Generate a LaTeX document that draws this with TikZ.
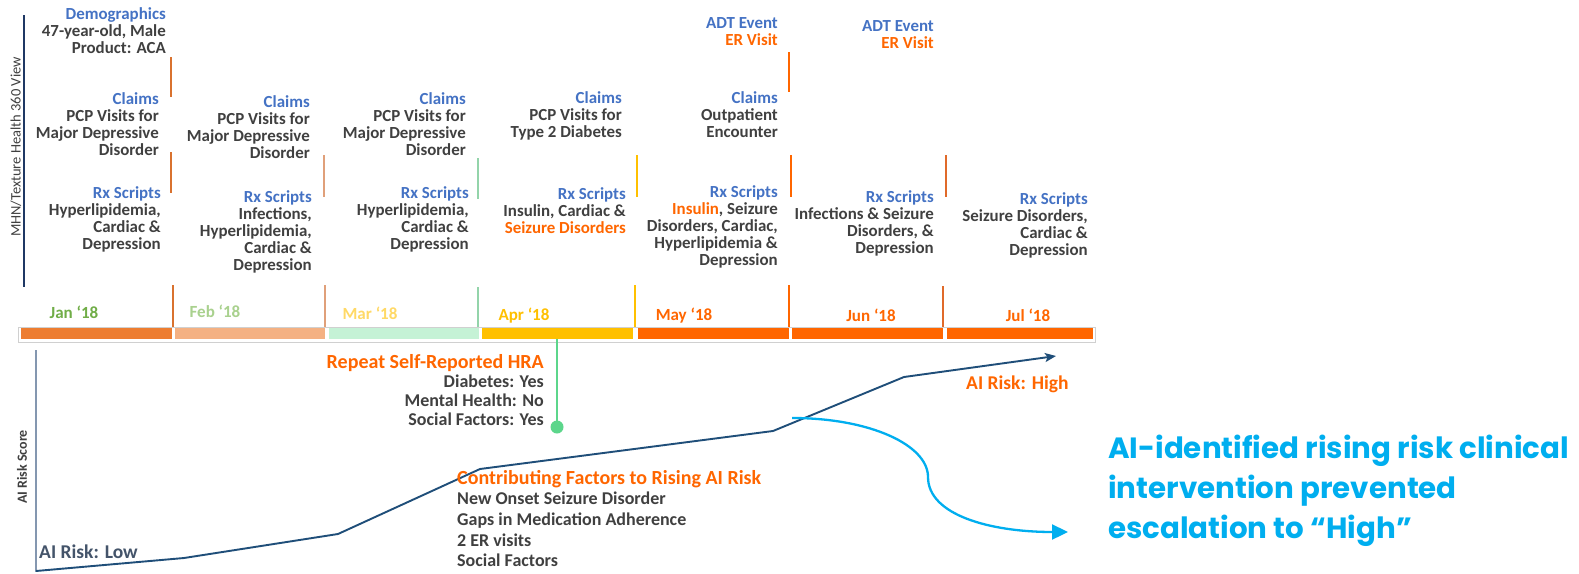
\documentclass[tikz,border=0pt]{standalone}
\usepackage{fontspec}
\setmainfont{Carlito}
\newfontfamily\calloutfont{Poppins}
\usetikzlibrary{arrows.meta}

\definecolor{hdrblue}{HTML}{4472C4}
\definecolor{txtgray}{HTML}{404040}
\definecolor{hot}{HTML}{FF6600}
\definecolor{riskline}{HTML}{1F4E79}
\definecolor{axisnavy}{HTML}{1F3864}
\definecolor{axisgray}{HTML}{8497B0}
\definecolor{lowslate}{HTML}{44546A}
\definecolor{callout}{HTML}{00AEEF}
\definecolor{hragreen}{HTML}{5CD68B}
\definecolor{framegray}{HTML}{D0D0D0}
% month bar fills
\definecolor{janbar}{HTML}{ED7D31}
\definecolor{febbar}{HTML}{F4B183}
\definecolor{marbar}{HTML}{C5F2D6}
\definecolor{aprbar}{HTML}{FFC000}
% month label colours
\definecolor{janlab}{HTML}{70AD47}
\definecolor{feblab}{HTML}{A9D18E}
\definecolor{marlab}{HTML}{FFD966}
% separator colours
\definecolor{jantick}{HTML}{D9722F}
\definecolor{febtick}{HTML}{E0A07A}
\definecolor{martick}{HTML}{93D4AA}
\definecolor{juntick}{HTML}{E06A2A}

\tikzset{
  block/.style={inner sep=0pt, text=txtgray, align=right, anchor=north east,
    font=\bfseries\fontsize{16.9}{17}\selectfont},
  monthlab/.style={inner sep=0pt, anchor=base, font=\bfseries\fontsize{17}{18}\selectfont},
  barseg/.style={inner sep=0pt, minimum height=11pt, anchor=south west},
  sep/.style={line width=1.5pt},
  lower/.style={inner sep=0pt, font=\bfseries\fontsize{18}{19}\selectfont, text=txtgray},
  lowertitle/.style={inner sep=0pt, font=\bfseries\fontsize{20}{20}\selectfont, text=hot},
}

\newcommand{\hb}[1]{\textcolor{hdrblue}{#1}}
\newcommand{\ho}[1]{\textcolor{hot}{#1}}

\begin{document}
\begin{tikzpicture}[x=1pt, y=-1pt]
\path[use as bounding box, fill=white] (0,0) rectangle (1579,573);

% ---------- upper panel: data sources per month ----------
\coordinate (upTop) at (24,15);
\coordinate (upBot) at (24,287);
\draw[axisnavy, line width=1.5pt] (upTop) -- (upBot);
\node[rotate=90, inner sep=0pt, text=txtgray, font=\fontsize{14.5}{15}\selectfont]
  (viewlab) at (16,147) {MHN/Texture Health 360 View};

% January
\node[block] (demo) at (166,7) {\hb{Demographics}\\47-year-old, Male\\Product: ACA};
\node[block] (janclaims) at (159,92) {\hb{Claims}\\PCP Visits for\\Major Depressive\\Disorder};
\node[block] (janrx) at (161,186) {\hb{Rx Scripts}\\Hyperlipidemia,\\Cardiac \&\\Depression};
\draw[sep, jantick] (171,57) -- (171,97);
\draw[sep, jantick] (171,152) -- (171,193);

% February
\node[block] (febclaims) at (310,95) {\hb{Claims}\\PCP Visits for\\Major Depressive\\Disorder};
\node[block] (febrx) at (312,190) {\hb{Rx Scripts}\\Infections,\\Hyperlipidemia,\\Cardiac \&\\Depression};
\draw[sep, febtick] (324,155) -- (324,197);

% March
\node[block] (marclaims) at (466,92) {\hb{Claims}\\PCP Visits for\\Major Depressive\\Disorder};
\node[block] (marrx) at (469,186) {\hb{Rx Scripts}\\Hyperlipidemia,\\Cardiac \&\\Depression};
\draw[sep, martick] (478,158) -- (478,199);

% April
\node[block] (aprclaims) at (622,91) {\hb{Claims}\\PCP Visits for\\Type 2 Diabetes};
\node[block] (aprrx) at (626,187) {\hb{Rx Scripts}\\Insulin, Cardiac \&\\\ho{Seizure Disorders}};
\draw[sep, aprbar] (637,155) -- (637,197);

% May
\node[block] (mayadt) at (778,17) {\hb{ADT Event}\\\ho{ER Visit}};
\draw[sep, hot] (789,52) -- (789,92);
\node[block] (mayclaims) at (778,91) {\hb{Claims}\\Outpatient\\Encounter};
\node[block] (mayrx) at (778,185) {\hb{Rx Scripts}\\\ho{Insulin}, Seizure\\Disorders, Cardiac,\\Hyperlipidemia \&\\Depression};
\draw[sep, hot] (791,155) -- (791,197);

% June
\node[block] (junadt) at (934,20) {\hb{ADT Event}\\\ho{ER Visit}};
\node[block] (junrx) at (934,190) {\hb{Rx Scripts}\\Infections \& Seizure\\Disorders, \&\\Depression};
\draw[sep, juntick] (946,155) -- (946,197);

% July
\node[block] (julrx) at (1088,192) {\hb{Rx Scripts}\\Seizure Disorders,\\Cardiac \&\\Depression};

% ---------- timeline bar ----------
\draw[framegray, line width=1pt] (18,327) rectangle (1095,342);
\node[barseg, fill=janbar, minimum width=151pt] (janseg) at (21,339) {};
\node[barseg, fill=febbar, minimum width=150pt] (febseg) at (175,339) {};
\node[barseg, fill=marbar, minimum width=150pt] (marseg) at (329,339) {};
\node[barseg, fill=aprbar, minimum width=151pt] (aprseg) at (482,339) {};
\node[barseg, fill=hot, minimum width=151pt] (mayseg) at (638,339) {};
\node[barseg, fill=hot, minimum width=151pt] (junseg) at (792,339) {};
\node[barseg, fill=hot, minimum width=146pt] (julseg) at (947,339) {};

\draw[sep, line width=1.3pt, jantick] (173,285) -- (173,327);
\draw[sep, line width=1.3pt, febtick] (325,285) -- (325,327);
\draw[sep, line width=1.3pt, martick] (478,287) -- (478,327);
\draw[sep, line width=1.3pt, aprbar] (635,285) -- (635,327);
\draw[sep, line width=1.3pt, hot] (789,285) -- (789,327);
\draw[sep, line width=1.3pt, juntick] (943,286) -- (943,327);

\node[monthlab, text=janlab] (janlab) at (74,318.5) {Jan ‘18};
\node[monthlab, text=feblab] (feblab) at (215,317.5) {Feb ‘18};
\node[monthlab, text=marlab] (marlab) at (370,319.5) {Mar ‘18};
\node[monthlab, text=aprbar] (aprlab) at (524,320.5) {Apr ‘18};
\node[monthlab, text=hot] (maylab) at (684,320.5) {May ‘18};
\node[monthlab, text=hot] (junlab) at (871,321.5) {Jun ‘18};
\node[monthlab, text=hot] (jullab) at (1028,321.5) {Jul ‘18};

% ---------- lower panel: AI risk score ----------
\coordinate (loTop) at (36,350);
\coordinate (loBot) at (36,572);
\draw[axisgray, line width=1.3pt] (loTop) -- (loBot);
\node[rotate=90, inner sep=0pt, text=txtgray, font=\bfseries\fontsize{14}{15}\selectfont]
  (scorelab) at (22,467) {AI Risk Score};

% HRA marker
\node[circle, fill=hragreen, minimum size=13pt, inner sep=0pt] (hradot) at (557,427) {};
\draw[hragreen, line width=2pt] (hradot.center) -- (hradot.center |- aprseg.south);
\node[lowertitle, anchor=base east] (hratitle) at (544,368.5) {Repeat Self-Reported HRA};
\node[lower, align=right, anchor=north east] (hrabody) at (544,375) {Diabetes: Yes\\Mental Health: No\\Social Factors: Yes};

% risk trajectory
\coordinate (r0) at (36,571);
\coordinate (r1) at (184,558);
\coordinate (r2) at (338,534);
\coordinate (r3) at (480,469);
\coordinate (r4) at (773,431);
\coordinate (r5) at (904,377);
\coordinate (r6) at (1056,356);
\draw[riskline, line width=1.9pt, line join=round,
  -{Stealth[length=11pt, width=9pt, inset=2.5pt]}]
  (r0) -- (r1) -- (r2) -- (r3) -- (r4) -- (r5) -- (r6);

\node[lowertitle, anchor=base west] (contribtitle) at (457,484.5) {Contributing Factors to Rising AI Risk};
\node[lower, align=left, anchor=north west, font=\bfseries\fontsize{18}{20.7}\selectfont]
  (contribbody) at (457,492) {New Onset Seizure Disorder\\Gaps in Medication Adherence\\2 ER visits\\Social Factors};

\node[inner sep=0pt, anchor=base west, text=lowslate, font=\bfseries\fontsize{19.5}{20}\selectfont]
  (risklow) at (39,558.5) {AI Risk: Low};
\node[lowertitle, font=\bfseries\fontsize{19.5}{20}\selectfont, anchor=base west] (riskhigh) at (966,389.5) {AI Risk: High};

% intervention path
\coordinate (iv0) at (792,418);
\coordinate (iv1) at (928,477);
\coordinate (iv2) at (1068,532);
\draw[callout, line width=2.3pt, -{Triangle[length=16pt, width=15pt]}]
  (iv0) .. controls (870,418) and (928,445) .. (iv1)
        .. controls (928,515) and (990,532) .. (iv2);

\node[inner sep=0pt, anchor=north west, align=left, text=callout,
  font=\calloutfont\bfseries\fontsize{29.3}{40}\selectfont]
  (calloutlab) at (1108,435) {AI-identified rising risk clinical\\intervention prevented\\escalation to “High”};

\end{tikzpicture}
\end{document}
